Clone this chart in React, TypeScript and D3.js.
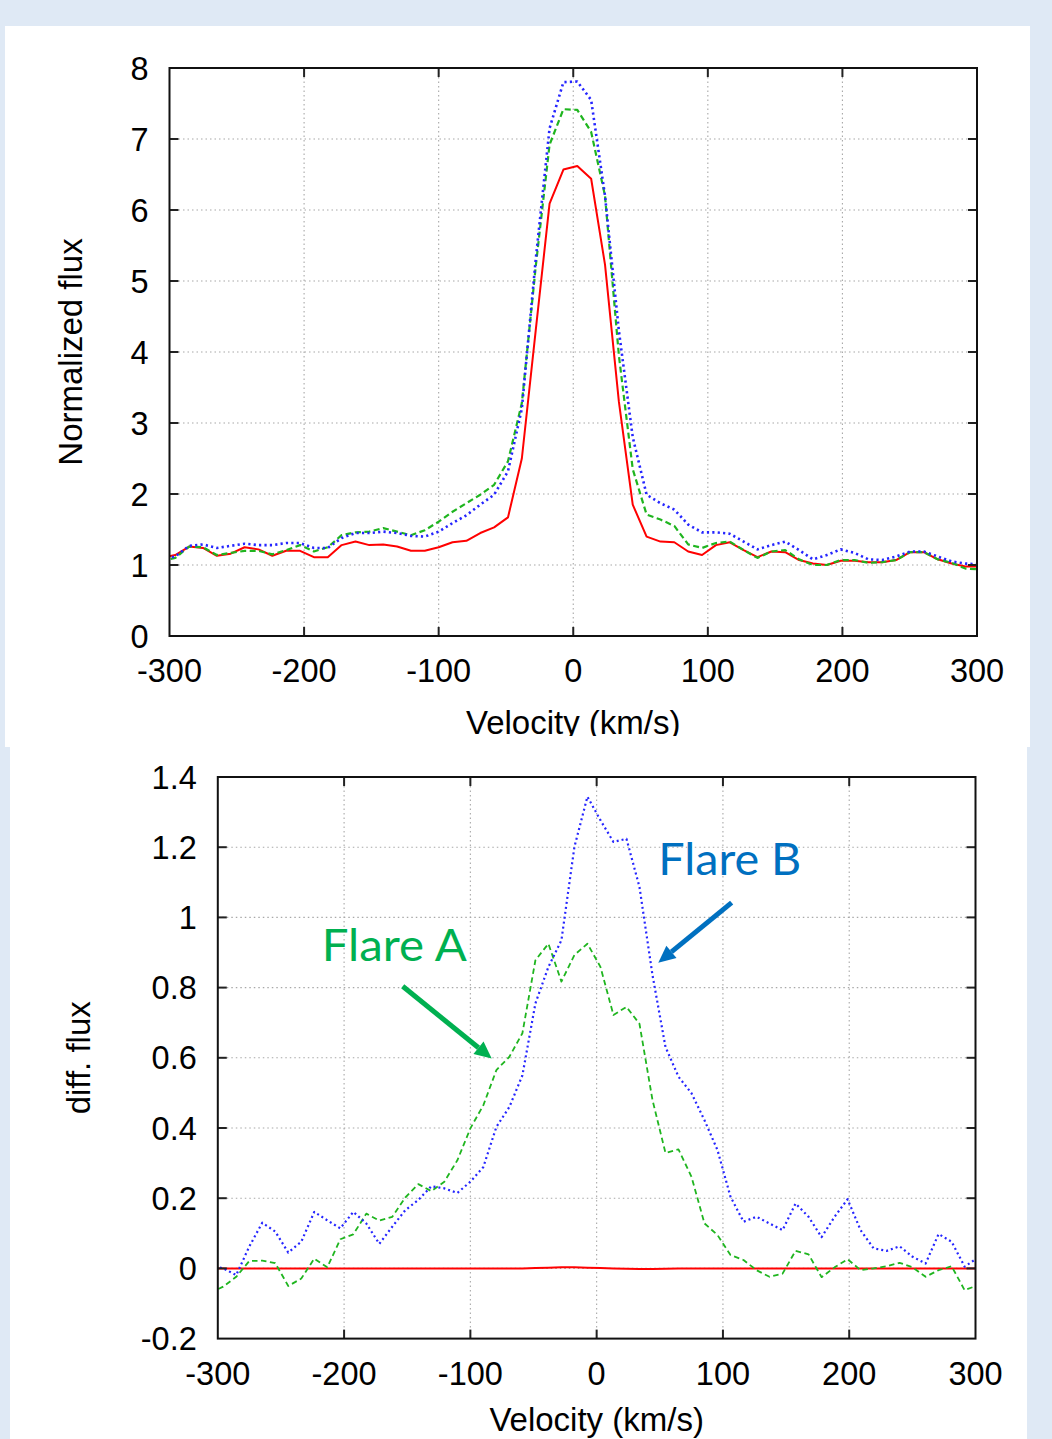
import React from 'react';
import * as d3 from 'd3';

// Velocity sampling (km/s) shared by all spectra
const VELOCITY = [
  -306.0, -295.7, -285.4, -275.1, -264.8, -254.5, -244.2, -233.9, -223.6, -213.3,
  -203.0, -192.7, -182.4, -172.1, -161.8, -151.5, -141.2, -130.9, -120.6, -110.3,
  -100.0, -89.7, -79.4, -69.1, -58.8, -48.5, -38.2, -27.9, -17.6, -7.3,
  3.0, 13.3, 23.6, 33.9, 44.2, 54.5, 64.8, 75.1, 85.4, 95.7,
  106.0, 116.3, 126.6, 136.9, 147.2, 157.5, 167.8, 178.1, 188.4, 198.7,
  209.0, 219.3, 229.6, 239.9, 250.2, 260.5, 270.8, 281.1, 291.4, 301.7,
];

// Top panel: normalized flux
const NORM_QUIET = [
  1.10, 1.14, 1.26, 1.24, 1.13, 1.16, 1.25, 1.22, 1.13, 1.20,
  1.20, 1.11, 1.11, 1.28, 1.33, 1.28, 1.29, 1.26, 1.20, 1.20,
  1.25, 1.32, 1.34, 1.45, 1.53, 1.67, 2.50, 4.30, 6.09, 6.57,
  6.62, 6.44, 5.23, 3.30, 1.85, 1.40, 1.33, 1.32, 1.19, 1.14,
  1.28, 1.32, 1.21, 1.11, 1.19, 1.18, 1.07, 1.02, 1.00, 1.06,
  1.06, 1.04, 1.04, 1.07, 1.18, 1.18, 1.08, 1.02, 0.98, 0.98,
];
const NORM_FLARE_A = [
  1.06, 1.10, 1.26, 1.25, 1.14, 1.17, 1.20, 1.20, 1.15, 1.21,
  1.28, 1.19, 1.25, 1.42, 1.46, 1.47, 1.52, 1.47, 1.42, 1.49,
  1.61, 1.75, 1.87, 1.99, 2.13, 2.46, 3.28, 5.20, 6.92, 7.42,
  7.41, 7.10, 6.20, 3.95, 2.35, 1.71, 1.64, 1.55, 1.29, 1.24,
  1.31, 1.33, 1.21, 1.10, 1.19, 1.21, 1.08, 1.00, 1.00, 1.07,
  1.07, 1.03, 1.04, 1.07, 1.18, 1.18, 1.08, 1.03, 0.95, 0.94,
];
const NORM_FLARE_B = [
  1.07, 1.12, 1.27, 1.29, 1.24, 1.27, 1.30, 1.28, 1.28, 1.31,
  1.31, 1.24, 1.24, 1.38, 1.45, 1.45, 1.47, 1.45, 1.41, 1.40,
  1.47, 1.59, 1.70, 1.85, 1.99, 2.32, 3.20, 5.30, 7.15, 7.80,
  7.81, 7.55, 6.20, 4.30, 2.80, 1.99, 1.87, 1.78, 1.57, 1.46,
  1.46, 1.44, 1.33, 1.22, 1.28, 1.33, 1.21, 1.08, 1.14, 1.22,
  1.17, 1.08, 1.07, 1.12, 1.19, 1.19, 1.12, 1.05, 1.02, 1.01,
];

// Bottom panel: difference flux
const DIFF_QUIET = [
  0, 0, 0, 0, 0, 0, 0, 0, 0, 0,
  0, 0, 0, 0, 0, 0, 0, 0, 0, 0,
  0, 0, 0, 0, 0, 0.001, 0.002, 0.003, 0.003, 0.002,
  0.001, 0, -0.001, -0.002, -0.002, -0.001, 0, 0, 0, 0,
  0, 0, 0, 0, 0, 0, 0, 0, 0, 0,
  0, 0, 0, 0, 0, 0, 0, 0, 0, 0,
];
const DIFF_FLARE_A = [
  -0.070, -0.052, -0.024, 0.021, 0.022, 0.015, -0.050, -0.029, 0.028, 0.003,
  0.083, 0.097, 0.156, 0.136, 0.147, 0.202, 0.240, 0.220, 0.247, 0.308,
  0.399, 0.465, 0.565, 0.603, 0.670, 0.878, 0.925, 0.817, 0.893, 0.925,
  0.859, 0.722, 0.745, 0.697, 0.480, 0.329, 0.339, 0.261, 0.128, 0.095,
  0.038, 0.024, -0.005, -0.024, -0.015, 0.050, 0.040, -0.025, 0.003, 0.026,
  -0.005, 0.000, 0.006, 0.016, 0.003, -0.024, -0.005, 0.006, -0.062, -0.048,
];
const DIFF_FLARE_B = [
  0.010, 0.000, -0.019, 0.062, 0.130, 0.105, 0.045, 0.076, 0.161, 0.137,
  0.114, 0.161, 0.128, 0.070, 0.119, 0.166, 0.195, 0.234, 0.228, 0.215,
  0.247, 0.289, 0.403, 0.460, 0.550, 0.755, 0.859, 0.935, 1.201, 1.344,
  1.277, 1.215, 1.224, 1.087, 0.836, 0.631, 0.546, 0.499, 0.422, 0.337,
  0.204, 0.133, 0.147, 0.128, 0.109, 0.185, 0.147, 0.089, 0.147, 0.197,
  0.109, 0.057, 0.050, 0.063, 0.033, 0.014, 0.098, 0.076, 0.005, 0.030,
];

const X_TICKS = [-300, -200, -100, 0, 100, 200, 300];
const NORM_Y_TICKS = [0, 1, 2, 3, 4, 5, 6, 7, 8];
const DIFF_Y_TICKS = [-0.2, 0, 0.2, 0.4, 0.6, 0.8, 1.0, 1.2, 1.4];

const X_LABEL = 'Velocity (km/s)';
const NORM_Y_LABEL = 'Normalized flux';
const DIFF_Y_LABEL = 'diff. flux';

const RED = '#ff0000';
const GREEN = '#1fb51f';
const BLUE = '#2525ff';
const FONT = '"Liberation Sans", Arial, Helvetica, sans-serif';

type Series = { values: number[]; color: string; dash?: string; width: number };

function Chart(props: {
  id: string;
  left: number; right: number; top: number; bottom: number;
  yDomain: [number, number];
  yTicks: number[];
  yLabel: string;
  yLabelX: number;
  xLabelY: number;
  series: Series[];
  children?: (x: d3.ScaleLinear<number, number>, y: d3.ScaleLinear<number, number>) => React.ReactNode;
}) {
  const { id, left, right, top, bottom, yDomain, yTicks, yLabel, yLabelX, xLabelY, series } = props;
  const x = d3.scaleLinear().domain([-300, 300]).range([left, right]);
  const y = d3.scaleLinear().domain(yDomain).range([bottom, top]);
  const fmt = (d: number) => String(+d.toFixed(1));
  const tickLen = 9;
  return (
    <g>
      <defs>
        <clipPath id={id}>
          <rect x={left} y={top} width={right - left} height={bottom - top} />
        </clipPath>
      </defs>
      {/* grid */}
      {X_TICKS.slice(1, -1).map((t) => (
        <line key={'gx' + t} x1={x(t)} x2={x(t)} y1={top} y2={bottom}
          stroke="#a8a8a8" strokeWidth={1.1} strokeDasharray="1.5,3" />
      ))}
      {yTicks.slice(1, -1).map((t) => (
        <line key={'gy' + t} x1={left} x2={right} y1={y(t)} y2={y(t)}
          stroke="#a8a8a8" strokeWidth={1.1} strokeDasharray="1.5,3" />
      ))}
      {/* series */}
      <g clipPath={`url(#${id})`}>
        {series.map((s, si) => {
          const line = d3.line<number>()
            .x((_, i) => x(VELOCITY[i]))
            .y((d) => y(d));
          return (
            <path key={si} d={line(s.values) || ''} fill="none" stroke={s.color}
              strokeWidth={s.width} strokeDasharray={s.dash} strokeLinejoin="round" />
          );
        })}
      </g>
      {/* ticks */}
      {X_TICKS.slice(1, -1).map((t) => (
        <g key={'tx' + t}>
          <line x1={x(t)} x2={x(t)} y1={top} y2={top + tickLen} stroke="#222" strokeWidth={2} />
          <line x1={x(t)} x2={x(t)} y1={bottom} y2={bottom - tickLen} stroke="#222" strokeWidth={2} />
        </g>
      ))}
      {yTicks.slice(1, -1).map((t) => (
        <g key={'ty' + t}>
          <line x1={left} x2={left + tickLen} y1={y(t)} y2={y(t)} stroke="#222" strokeWidth={2} />
          <line x1={right} x2={right - tickLen} y1={y(t)} y2={y(t)} stroke="#222" strokeWidth={2} />
        </g>
      ))}
      {/* frame */}
      <rect x={left} y={top} width={right - left} height={bottom - top} fill="none" stroke="#111" strokeWidth={2} />
      {/* tick labels */}
      {X_TICKS.map((t) => (
        <text key={'lx' + t} x={x(t)} y={bottom + 46} textAnchor="middle"
          fontFamily={FONT} fontSize={32.5} fill="#000">{fmt(t)}</text>
      ))}
      {yTicks.map((t) => (
        <text key={'ly' + t} x={left - 21} y={y(t) + 11.5} textAnchor="end"
          fontFamily={FONT} fontSize={32.5} fill="#000">{fmt(t)}</text>
      ))}
      {/* axis labels */}
      <text x={(left + right) / 2} y={xLabelY} textAnchor="middle" fontFamily={FONT} fontSize={33} fill="#000">{X_LABEL}</text>
      <text transform={`translate(${yLabelX},${(top + bottom) / 2}) rotate(-90)`} textAnchor="middle"
        fontFamily={FONT} fontSize={33} fill="#000">{yLabel}</text>
      {props.children && props.children(x, y)}
    </g>
  );
}

function Arrow({ x1, y1, x2, y2, color }: { x1: number; y1: number; x2: number; y2: number; color: string }) {
  const ang = Math.atan2(y2 - y1, x2 - x1);
  const headLen = 17;
  const headW = 8;
  const bx = x2 - headLen * Math.cos(ang);
  const by = y2 - headLen * Math.sin(ang);
  const px = -Math.sin(ang) * headW;
  const py = Math.cos(ang) * headW;
  return (
    <g>
      <line x1={x1} y1={y1} x2={bx} y2={by} stroke={color} strokeWidth={5} />
      <polygon points={`${x2},${y2} ${bx + px},${by + py} ${bx - px},${by - py}`} fill={color} />
    </g>
  );
}

export default function App() {
  const W = 1052;
  const H = 1439;
  return (
    <div style={{ position: 'absolute', left: 0, top: 0, width: W, height: H }}>
      <svg width={W} height={H} style={{ display: 'block' }}>
        <defs>
          <clipPath id="topPanelClip">
            <rect x={0} y={0} width={W} height={736} />
          </clipPath>
        </defs>
        <rect x={0} y={0} width={W} height={H} fill="#dfe9f5" />
        <rect x={5} y={26} width={1025} height={721} fill="#ffffff" />
        <rect x={10} y={746} width={1017} height={H - 746} fill="#ffffff" />
        <g clipPath="url(#topPanelClip)">
          <Chart id="clipTop" left={169.5} right={977} top={68} bottom={636}
            yDomain={[0, 8]} yTicks={NORM_Y_TICKS} yLabel={NORM_Y_LABEL} yLabelX={82} xLabelY={734}
            series={[
              { values: NORM_QUIET, color: RED, width: 2 },
              { values: NORM_FLARE_A, color: GREEN, width: 2.2, dash: '6,3.5' },
              { values: NORM_FLARE_B, color: BLUE, width: 2.6, dash: '2.2,3.2' },
            ]} />
        </g>
        <Chart id="clipBottom" left={217.8} right={975.5} top={777} bottom={1338.6}
          yDomain={[-0.2, 1.4]} yTicks={DIFF_Y_TICKS} yLabel={DIFF_Y_LABEL} yLabelX={90} xLabelY={1431}
          series={[
            { values: DIFF_QUIET, color: RED, width: 2 },
            { values: DIFF_FLARE_A, color: GREEN, width: 1.8, dash: '5.5,3.5' },
            { values: DIFF_FLARE_B, color: BLUE, width: 2.2, dash: '2,3' },
          ]}>
          {(x, y) => (
            <g>
              <text x={x(-217.7)} y={y(0.876)} fontFamily='Lato, "Open Sans", sans-serif' fontSize={44}
                fill="#00b050" textLength={145} lengthAdjust="spacingAndGlyphs">Flare A</text>
              <Arrow x1={x(-153.6)} y1={y(0.804)} x2={x(-83.1)} y2={y(0.598)} color="#00b050" />
              <text x={x(48.8)} y={y(1.12)} fontFamily='Lato, "Open Sans", sans-serif' fontSize={45}
                fill="#0070c0" textLength={143} lengthAdjust="spacingAndGlyphs">Flare B</text>
              <Arrow x1={x(106.9)} y1={y(1.042)} x2={x(48.8)} y2={y(0.871)} color="#0070c0" />
            </g>
          )}
        </Chart>
      </svg>
    </div>
  );
}
